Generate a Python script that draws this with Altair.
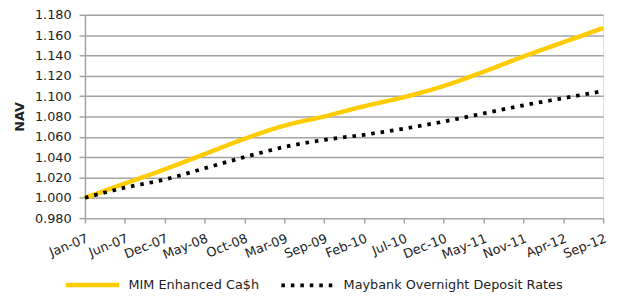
import altair as alt
import pandas as pd

tick_labels = ["Jan-07", "Jun-07", "Dec-07", "May-08", "Oct-08", "Mar-09", "Sep-09",
               "Feb-10", "Jul-10", "Dec-10", "May-11", "Nov-11", "Apr-12", "Sep-12"]
mim_values = [1.000, 1.014, 1.028, 1.043, 1.058, 1.071, 1.080,
              1.090, 1.099, 1.110, 1.124, 1.139, 1.153, 1.167]
maybank_values = [1.000, 1.010, 1.018, 1.029, 1.040, 1.050, 1.057,
                  1.062, 1.068, 1.075, 1.083, 1.091, 1.098, 1.105]
series_names = ["MIM Enhanced Ca$h", "Maybank Overnight Deposit Rates"]
y_ticks = [0.98, 1.00, 1.02, 1.04, 1.06, 1.08, 1.10, 1.12, 1.14, 1.16, 1.18]

rows = []
for i, lab in enumerate(tick_labels):
    rows.append({"idx": i, "label": lab, "series": series_names[0], "nav": mim_values[i]})
    rows.append({"idx": i, "label": lab, "series": series_names[1], "nav": maybank_values[i]})
df = pd.DataFrame(rows)

label_array = "[" + ",".join("'" + s + "'" for s in tick_labels) + "]"

FONT = "DejaVu Sans"
GRID = "#a3a3a3"

legend = alt.Legend(
    title=None, orient="none", direction="horizontal", legendX=-22, legendY=244,
    symbolType="stroke", symbolSize=2916, labelOffset=7, columnPadding=14,
    labelFont=FONT, labelFontSize=13, labelColor="#222222", labelLimit=400,
)

chart = alt.Chart(df).mark_line(interpolate="monotone", strokeCap="butt").encode(
    x=alt.X("idx:Q", scale=alt.Scale(domain=[0, 13], nice=False, zero=False),
            axis=alt.Axis(values=list(range(14)), labelExpr=label_array + "[datum.value]",
                          title=None, grid=False, labelAngle=-22, labelAlign="right",
                          labelBaseline="top", tickSize=5, labelPadding=9,
                          labelOverlap=False, labelBound=False, labelFlush=False,
                          labelFont=FONT, labelFontSize=13, labelColor="#222222",
                          domainColor=GRID, tickColor=GRID, domainWidth=1.5, tickWidth=1.5)),
    y=alt.Y("nav:Q", scale=alt.Scale(domain=[0.98, 1.18], nice=False, zero=False),
            axis=alt.Axis(values=y_ticks, format=".3f", title="NAV", titleFont=FONT,
                          titleFontSize=13, titleFontWeight="bold", titleColor="#222222",
                          titlePadding=8, tickSize=6, labelPadding=8, labelOverlap=False,
                          labelFont=FONT, labelFontSize=13, labelColor="#222222",
                          gridColor=GRID, gridWidth=1.5, domainColor=GRID, tickColor=GRID,
                          domainWidth=1.5, tickWidth=1.5)),
    color=alt.Color("series:N", scale=alt.Scale(domain=series_names, range=["#FFCC00", "#000000"]),
                    legend=legend),
    strokeDash=alt.StrokeDash("series:N", scale=alt.Scale(domain=series_names, range=[[1, 0], [3.6, 6.0]]),
                              legend=legend),
    strokeWidth=alt.StrokeWidth("series:N", scale=alt.Scale(domain=series_names, range=[4.5, 3.8]),
                                legend=legend),
).properties(
    width=525, height=206,
    autosize=alt.AutoSizeParams(type="none"),
    padding={"left": 78, "top": 5, "right": 11, "bottom": 77},
).configure_view(stroke=GRID, strokeWidth=1.5).configure(background="white")

chart.save("out.html", embed_options={"renderer": "svg", "actions": False})
